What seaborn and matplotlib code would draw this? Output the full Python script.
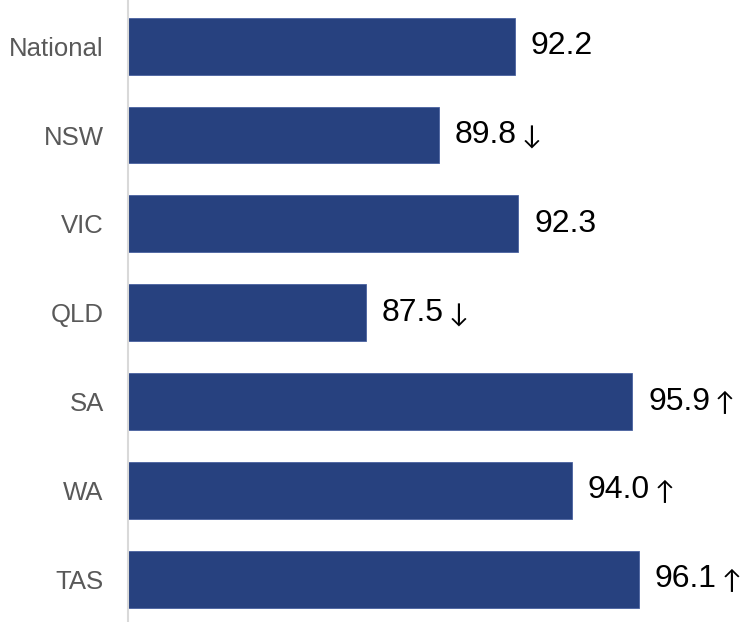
import pandas as pd
from matplotlib import pyplot as plt
import seaborn as sns

# data
regions = ['National', 'NSW', 'VIC', 'QLD', 'SA', 'WA', 'TAS']
scores = [92.2, 89.8, 92.3, 87.5, 95.9, 94.0, 96.1]
trends = ['', '↓', '', '↓', '↑', '↑', '↑']

df = pd.DataFrame({'region': regions, 'score': scores})

sns.set_style('white')
plt.rcParams['font.family'] = ['Liberation Sans', 'DejaVu Sans']

fig = plt.figure(figsize=(7.4, 6.22), dpi=100)
ax = fig.add_axes([128 / 740, 0.0, 1 - 128 / 740, 1.0])

sns.barplot(data=df, x='score', y='region', orient='h', color='#27417f',
            saturation=1, width=0.64, edgecolor='#4a62a0', linewidth=0.6, ax=ax)

ax.set_xlim(80, 99.3)
ax.set_ylim(6.48, -0.52)

renderer = fig.canvas.get_renderer()
for i, (v, t) in enumerate(zip(scores, trends)):
    txt = ax.annotate(f'{v:.1f}', (v, i), xytext=(11.5, 0), textcoords='offset points',
                      va='center', ha='left', fontsize=23, color='black')
    if t:
        # thin arrow (Lato), right after the number
        w = txt.get_window_extent(renderer).width * 72 / fig.dpi
        ax.annotate(t, (v, i), xytext=(11.5 + w + 3.5, -1.5), textcoords='offset points',
                    va='center', ha='left', fontsize=19, color='black',
                    family=['Lato', 'DejaVu Sans'])

ax.set_xlabel('')
ax.set_ylabel('')
ax.set_xticks([])
ax.tick_params(axis='y', length=0, pad=17.5, labelsize=18.5, labelcolor='#595959')
for side in ['top', 'right', 'bottom']:
    ax.spines[side].set_visible(False)
ax.spines['left'].set_color('#d9d9d9')
ax.spines['left'].set_linewidth(1.5)

fig.savefig('out.png', dpi=100)
